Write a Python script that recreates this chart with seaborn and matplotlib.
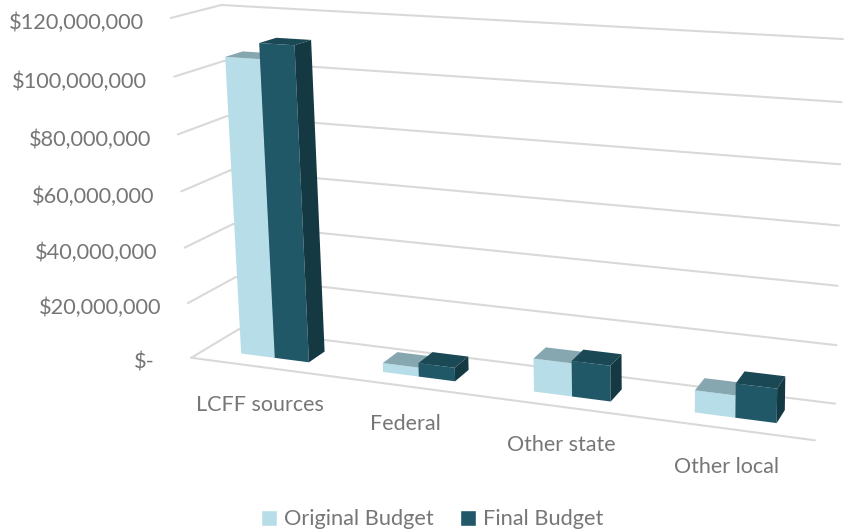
import numpy as np
import pandas as pd
import matplotlib
matplotlib.use("Agg")
import matplotlib.pyplot as plt
from matplotlib.patches import Polygon
from matplotlib.transforms import Transform, IdentityTransform
import seaborn as sns

# Data
categories = ["LCFF sources", "Federal", "Other state", "Other local"]
series_names = ["Original Budget", "Final Budget"]
original_budget = [106000000, 3200000, 11500000, 7500000]
final_budget = [111500000, 4800000, 12300000, 11500000]
tick_values = [0, 20000000, 40000000, 60000000, 80000000, 100000000, 120000000]
tick_labels = ["$-", "$20,000,000", "$40,000,000", "$60,000,000", "$80,000,000", "$100,000,000", "$120,000,000"]

df = pd.DataFrame({
    "category": categories * 2,
    "series": [series_names[0]] * 4 + [series_names[1]] * 4,
    "budget": original_budget + final_budget,
})

W, H = 844, 531
X_MIN, X_MAX = -0.5, 3.5
TOP = 120000000
BAR_FRONT, BAR_BACK = 0.30, 0.66

top_colors = {"#B7DEE8": "#87A7B0", "#215868": "#1A4854"}
side_colors = {"#B7DEE8": "#8FB3BD", "#215868": "#153943"}
grid_color = "#D9D9D9"
text_color = "#767676"

# The tilted chart box: where its corners land on the picture (x, value, depth -> px)
box_world = [(X_MIN, 0, 0), (X_MIN, 0, 1), (X_MAX, 0, 1), (X_MAX, 0, 0),
             (X_MIN, TOP, 1), (X_MAX, TOP, 1), (X_MIN, TOP, 0)]
box_pixels = [(190, 358), (240, 329), (835, 404), (815, 440),
              (220, 5), (843, 39), (172, 18)]


def fit_camera(world, pixels):
    rows = []
    for (x, v, d), (px, py) in zip(world, pixels):
        v = v / 1e8
        px, py = px / 1000, py / 1000
        rows.append([x, v, d, 1, 0, 0, 0, 0, -px * x, -px * v, -px * d, -px])
        rows.append([0, 0, 0, 0, x, v, d, 1, -py * x, -py * v, -py * d, -py])
    return np.linalg.svd(np.array(rows))[2][-1].reshape(3, 4)


camera = fit_camera(box_world, box_pixels)


def project(x, v, d):
    # value space to display coordinates
    x, v, d = np.broadcast_arrays(np.asarray(x, float), np.asarray(v, float) / 1e8, np.asarray(d, float))
    pts = np.stack([x, v, d, np.ones_like(x)], axis=-1) @ camera.T
    return np.stack([pts[..., 0] / pts[..., 2] * 1000, H - pts[..., 1] / pts[..., 2] * 1000], axis=-1)


class PlaneTransform(Transform):
    # data coordinates of the axes, drawn on the plane at a given depth
    input_dims = 2
    output_dims = 2
    is_separable = False
    has_inverse = False

    def __init__(self, plane):
        super().__init__()
        self.plane = plane

    def transform_non_affine(self, values):
        values = np.asarray(values)
        return project(values[:, 0], values[:, 1], self.plane)


sns.set_style("white")
plt.rcParams["font.family"] = ["Lato", "DejaVu Sans"]

fig = plt.figure(figsize=(W / 100, H / 100), dpi=100)
ax = fig.add_axes([0, 0, 1, 1])

sns.barplot(data=df, x="category", y="budget", hue="series", order=categories, hue_order=series_names,
            palette=["#B7DEE8", "#215868"], saturation=1, width=0.485, gap=0, ax=ax)
ax.set_xlim(X_MIN, X_MAX)
ax.set_ylim(0, TOP)
ax.axis("off")

# Gridlines on back wall and left wall
for v, label in zip(tick_values, tick_labels):
    ax.plot([X_MIN, X_MAX], [v, v], transform=PlaneTransform(1), color=grid_color, lw=1.5, zorder=1, clip_on=False)
    ax.plot(*project([X_MIN, X_MIN], v, [0, 1]).T, transform=IdentityTransform(), color=grid_color, lw=1.5, zorder=1)
    tx, ty = project(X_MIN, v, 0)
    off = -37 if v == 0 else -27
    ax.annotate(label, xy=(tx, ty), xycoords="figure pixels", xytext=(off * 0.72, -5 * 0.72), textcoords="offset points",
                ha="right", va="center", fontsize=15.7, color=text_color)

# Floor front edge
ax.plot([X_MIN, X_MAX], [0, 0], transform=PlaneTransform(0), color=grid_color, lw=1.5, zorder=1, clip_on=False)

# Front faces come from seaborn, top and side are extruded from them
for bar in list(ax.patches):
    x0, x1 = bar.get_x(), bar.get_x() + bar.get_width()
    v = bar.get_height()
    color = matplotlib.colors.to_hex(bar.get_facecolor()).upper()
    z = 3 + bar.get_x()
    bar.set_transform(PlaneTransform(BAR_FRONT))
    bar.set_clip_on(False)
    bar.set_linewidth(0)
    bar.set_zorder(z)
    top = project([x0, x1, x1, x0], v, [BAR_FRONT, BAR_FRONT, BAR_BACK, BAR_BACK])
    side = project(x1, [0, v, v, 0], [BAR_FRONT, BAR_FRONT, BAR_BACK, BAR_BACK])
    ax.add_patch(Polygon(top, transform=IdentityTransform(), fc=top_colors[color], lw=0, zorder=z, clip_on=False))
    ax.add_patch(Polygon(side, transform=IdentityTransform(), fc=side_colors[color], lw=0, zorder=z, clip_on=False))

# Category labels under the floor edge
for i, name in enumerate(categories):
    tx, ty = project(i, 0, 0)
    ax.annotate(name, xy=(tx, ty), xycoords="figure pixels", xytext=(-1 * 0.72, -38 * 0.72), textcoords="offset points",
                ha="center", va="center", fontsize=15.5, color=text_color)

sns.move_legend(ax, "lower center", bbox_to_anchor=(0.512, -0.017), ncol=2, frameon=False, title=None,
                fontsize=15.7, handlelength=0.75, handleheight=0.75, handletextpad=0.3, columnspacing=1.2,
                labelcolor=text_color, borderaxespad=0.1)

fig.savefig("out.png", dpi=100)
